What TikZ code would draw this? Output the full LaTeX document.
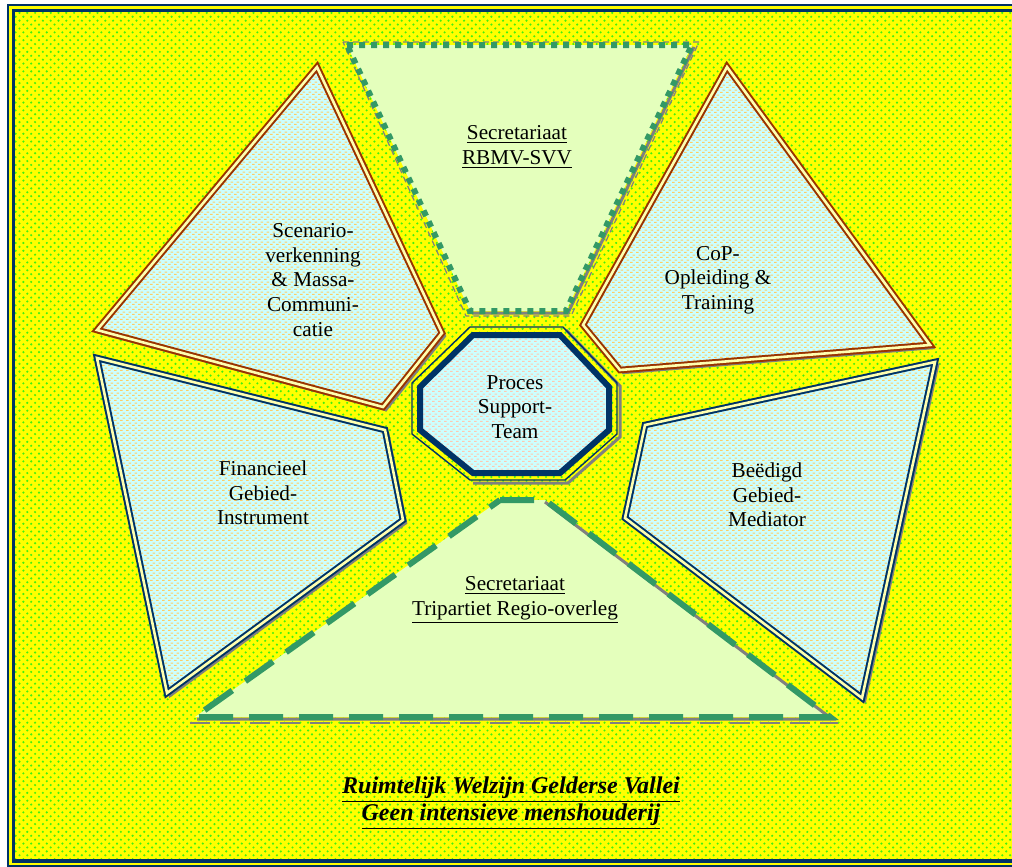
\documentclass[tikz,border=0pt]{standalone}
\usepackage{fontspec}
\setmainfont{Liberation Serif}
\usepackage{xcolor}
\usetikzlibrary{patterns, positioning}

\definecolor{navyline}{HTML}{003366}
\definecolor{rustline}{HTML}{993300}
\definecolor{seagreen}{HTML}{339966}
\definecolor{bgyellow}{HTML}{FFFF00}
\definecolor{dotgreen}{HTML}{44EE11}
\definecolor{palecyan}{HTML}{CCFFFF}
\definecolor{palelime}{HTML}{E4FFBC}
\definecolor{dashorange}{HTML}{FFCC66}
\definecolor{dashpink}{HTML}{FFC8B0}
\definecolor{rimgap}{HTML}{FFFFB0}

\pgfdeclarepatternformonly{fielddots}{\pgfqpoint{-1pt}{-1pt}}{\pgfqpoint{5pt}{5pt}}{\pgfqpoint{3.9pt}{3.9pt}}{%
  \pgfpathcircle{\pgfqpoint{0pt}{0pt}}{0.6pt}%
  \pgfpathcircle{\pgfqpoint{1.95pt}{1.95pt}}{0.6pt}%
  \pgfusepathqfill}
\pgfdeclarepatternformonly{fillbits}{\pgfqpoint{0pt}{0pt}}{\pgfqpoint{3pt}{2.6pt}}{\pgfqpoint{3pt}{2.6pt}}{%
  \pgfpathrectangle{\pgfqpoint{0pt}{0pt}}{\pgfqpoint{1.5pt}{0.7pt}}%
  \pgfpathrectangle{\pgfqpoint{1.5pt}{1.3pt}}{\pgfqpoint{1.5pt}{0.7pt}}%
  \pgfusepathqfill}

\begin{document}
\begin{tikzpicture}[x=0.5pt,y=-0.5pt,line join=miter,
    field/.style={preaction={fill=bgyellow},pattern=fielddots,pattern color=dotgreen},
    cyanpatch/.style={preaction={fill=palecyan},pattern=fillbits,pattern color=dashorange},
    pinkpatch/.style={preaction={fill=palecyan},pattern=fillbits,pattern color=dashpink},
    navyrim/.style={draw=navyline,line width=1pt,double=rimgap,double distance=1.3pt},
    rustrim/.style={draw=rustline,line width=1pt,double=rimgap,double distance=1.3pt},
    shadowrim/.style={draw=gray,line width=1.2pt,shift={(3,3)}},
    boxtext/.style={align=center,font=\fontsize{10.6}{12.3}\selectfont},
    titletext/.style={align=center,font=\fontsize{12}{13.4}\selectfont\bfseries\itshape}]

  \useasboundingbox (0,0) rectangle (1012,867);
  \clip (0,0) rectangle (1012,867);

  % frame and background
  \fill[white] (0,0) rectangle (1012,867);
  \fill[bgyellow] (8,5) rectangle (1030,865.5);
  \draw[navyline,line width=1pt] (8,5) rectangle (1030,865.5);
  \path[field] (13.5,10.5) rectangle (1030,861);
  \draw[navyline,line width=1.7pt] (13.5,10.5) rectangle (1030,861);

  % top trapezoid
  \draw[gray,line width=0.6pt,dash pattern=on 3pt off 2pt] (343,42) -- (699,42) -- (571,316) -- (466,316) -- cycle;
  \fill[palelime] (347,45) -- (692,45) -- (566,311) -- (470,311) -- cycle;
  \draw[gray,line width=1.5pt] (694,47) -- (568,313) -- (472,313);
  \draw[seagreen,line width=3pt,dash pattern=on 3pt off 3pt] (347,45) -- (692,45) -- (566,311) -- (470,311) -- cycle;

  % bottom triangle
  \draw[gray,line width=0.6pt,dash pattern=on 10pt off 5pt] (190,723) -- (838,723);
  \fill[palelime] (500,500) -- (545,500) -- (830,717) -- (195,717) -- cycle;
  \draw[gray,line width=1.5pt] (545,502) -- (832,719) -- (197,719);
  \draw[seagreen,line width=3pt,dash pattern=on 17pt off 8pt] (500,500) -- (545,500) -- (830,717) -- (195,717) -- cycle;

  % side shapes
  \draw[shadowrim] (317,67) -- (442,333) -- (383,407) -- (97,330) -- cycle;
  \path[cyanpatch,rustrim] (317,67) -- (442,333) -- (383,407) -- (97,330) -- cycle;
  \draw[shadowrim] (727,67) -- (930,345) -- (620,370) -- (583,325) -- cycle;
  \path[cyanpatch,rustrim] (727,67) -- (930,345) -- (620,370) -- (583,325) -- cycle;
  \draw[shadowrim] (97,358) -- (385,430) -- (403,520) -- (167,693) -- cycle;
  \path[cyanpatch,navyrim] (97,358) -- (385,430) -- (403,520) -- (167,693) -- cycle;
  \draw[shadowrim] (935,362) -- (645,425) -- (625,518) -- (862,698) -- cycle;
  \path[cyanpatch,navyrim] (935,362) -- (645,425) -- (625,518) -- (862,698) -- cycle;

  % octagon
  \draw[gray,line width=1.5pt] (566,330) -- (620,386) -- (620,437) -- (568,483) -- (473,483);
  \draw[navyline,line width=0.7pt] (470,327) -- (563,327) -- (617,383) -- (617,434) -- (565,480) -- (470,480) -- (412,434) -- (412,383) -- cycle;
  \path[pinkpatch,draw=navyline,line width=3pt] (473,335) -- (560,335) -- (609,387) -- (609,430) -- (560,473) -- (473,473) -- (420,430) -- (420,387) -- cycle;

  \node[boxtext] (rbmv) at (517,147) {\underline{Secretariaat}\\\underline{RBMV-SVV}};
  \node[boxtext] (scenario) at (313,280) {Scenario-\\verkenning\\\& Massa-\\Communi-\\catie};
  \node[boxtext] (cop) at (718,280) {CoP-\\Opleiding \&\\Training};
  \node[boxtext] (pst) at (515,407) {Proces\\Support-\\Team};
  \node[boxtext] (fin) at (263,493) {Financieel\\Gebied-\\Instrument};
  \node[boxtext] (mediator) at (767,495) {Beëdigd\\Gebied-\\Mediator};
  \node[boxtext] (tripartiet) at (515,600) {\underline{Secretariaat}\\\underline{Tripartiet Regio-overleg}};
  \node[titletext] (title) at (511,803) {\underline{Ruimtelijk Welzijn Gelderse Vallei}\\\underline{Geen intensieve menshouderij}};

\end{tikzpicture}
\end{document}
